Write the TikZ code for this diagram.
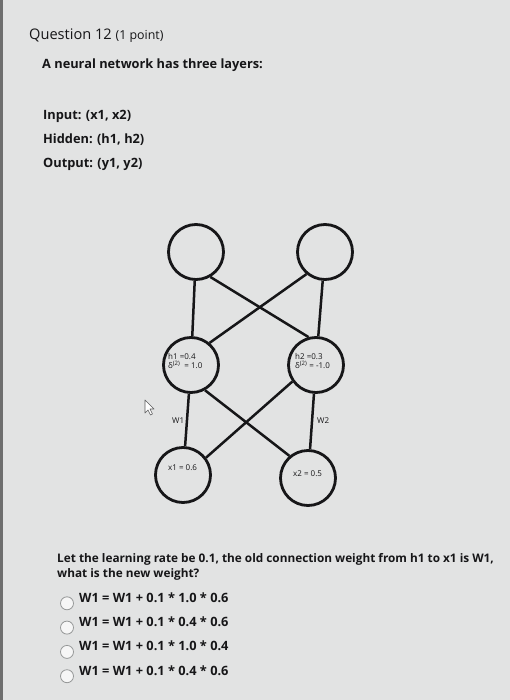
\documentclass[tikz,border=0pt]{standalone}
\usepackage{fontspec}
\setmainfont{Open Sans}
\usetikzlibrary{positioning}
\definecolor{screengray}{RGB}{226,227,227}
\definecolor{edgegray}{RGB}{110,110,110}
\definecolor{inkblack}{RGB}{22,22,24}
\definecolor{radiogray}{RGB}{150,152,152}
\definecolor{radiofill}{RGB}{246,246,246}
\tikzset{
  neuron/.style={circle, draw=inkblack, line width=2.8pt, minimum size=55pt, inner sep=0pt},
  wire/.style  ={draw=inkblack, line width=2.5pt},
  qtext/.style ={anchor=base west, inner sep=0pt, text=inkblack, font=\bfseries\fontsize{12.8}{14}\selectfont},
  asktext/.style={qtext, font=\bfseries\fontsize{11.8}{13}\selectfont},
  tiny/.style  ={anchor=base west, inner sep=0pt, text=inkblack, font=\fontsize{8}{9}\selectfont},
  radio/.style ={circle, draw=radiogray, fill=radiofill, line width=0.8pt, minimum size=13pt, inner sep=0pt},
}

\begin{document}
\begin{tikzpicture}[x=1pt, y=-1pt]
\useasboundingbox (0,0) rectangle (510,700);
\fill[screengray] (0,0) rectangle (510,700);
\draw[edgegray, line width=3pt] (1.5,0) -- (1.5,700);
% question header
\node[anchor=base west, inner sep=0pt, text=inkblack, font=\fontsize{14.6}{16}\selectfont] (qhead) at (29,40)
  {Question 12 {\fontsize{12.4}{14}\selectfont(1 point)}};
\node[qtext] (intro) at (42,69) {A neural network has three layers:};
\node[qtext] (lin)  at (43,120) {Input: (x1, x2)};
\node[qtext] (lhid) at (43,144) {Hidden: (h1, h2)};
\node[qtext] (lout) at (43,168) {Output: (y1, y2)};
% network
\node[neuron] (y1) at (196,252) {};
\node[neuron] (y2) at (325,252) {};
\node[neuron] (h1) at (191,365) {};
\node[neuron] (h2) at (316,365) {};
\node[neuron] (x1) at (183,475) {};
\node[neuron] (x2) at (308,478) {};
\draw[wire] (y1) -- (h1);
\draw[wire] (y2) -- (h2);
\draw[wire] (y1.-60) -- (h2.105);
\draw[wire] (y2.-130) -- (h1.50);
\draw[wire] (h1) -- (x1);
\draw[wire] (h2) -- (x2);
\draw[wire] (h1.-61) -- (x2.130);
\draw[wire] (h2.215) -- (x1.37);
\node[tiny] (h1val) at (168,359) {h1 =0.4};
\node[tiny] (h1del) at (168,368.5) {δ\textsuperscript{(2)}\ \ = 1.0};
\node[tiny] (h2val) at (295,359) {h2 =0.3};
\node[tiny] (h2del) at (295,368.5) {δ\textsuperscript{(2)}\ = -1.0};
\node[tiny] (w1) at (172,423) {W1};
\node[tiny] (w2) at (317,423) {W2};
\node[tiny] (x1val) at (168,470) {x1 = 0.6};
\node[tiny] (x2val) at (293,476) {x2 = 0.5};
% pointer
\draw[inkblack!70, line width=0.6pt, fill=white, line join=round]
  (145,400) -- (145,413) -- (148,410) -- (150.5,415) -- (152.5,414) -- (150,409) -- (154,409) -- cycle;
% question text
\node[asktext] (ask1) at (57,562) {Let the learning rate be 0.1, the old connection weight from h1 to x1 is W1,};
\node[asktext] (ask2) at (57,577) {what is the new weight?};
\foreach \i/\ans in {1/{W1 = W1 + 0.1 * 1.0 * 0.6}, 2/{W1 = W1 + 0.1 * 0.4 * 0.6},
                     3/{W1 = W1 + 0.1 * 1.0 * 0.4}, 4/{W1 = W1 + 0.1 * 0.4 * 0.6}} {
  \node[radio] (opt\i) at (67,{579+24.3*\i}) {};
  \node[qtext] (ans\i) at (79,{578+24.3*\i}) {\ans};
}
\end{tikzpicture}
\end{document}
